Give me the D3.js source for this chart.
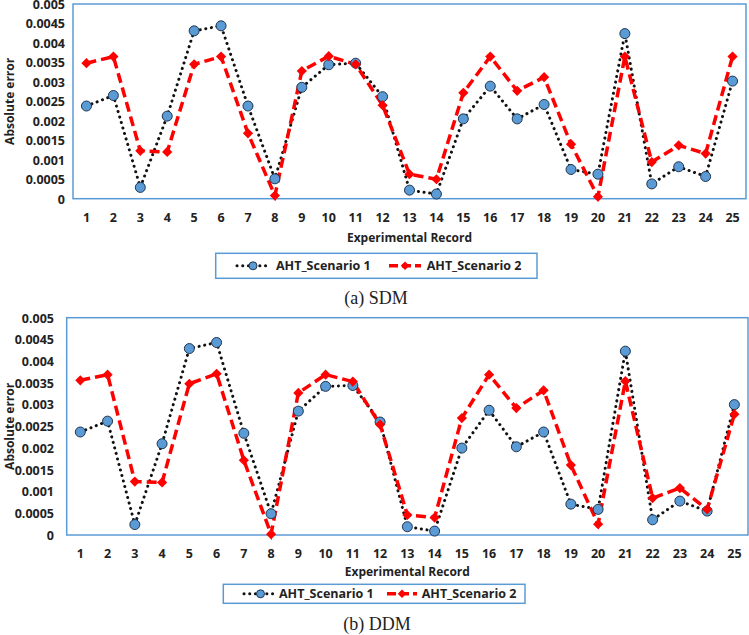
<!DOCTYPE html>
<html><head><meta charset="utf-8">
<script src="https://cdn.jsdelivr.net/npm/d3@7/dist/d3.min.js"></script>
<style>
html,body{margin:0;padding:0;background:#fff;}
svg{display:block;}
</style></head>
<body>
<svg id="chart" width="749" height="635"></svg>
<script>
const records = d3.range(1, 26).map(String);
const yTicks = [0, 0.0005, 0.001, 0.0015, 0.002, 0.0025, 0.003, 0.0035, 0.004, 0.0045, 0.005];
const yTickLabels = ["0","0.0005","0.001","0.0015","0.002","0.0025","0.003","0.0035","0.004","0.0045","0.005"];
const seriesNames = ["AHT_Scenario 1", "AHT_Scenario 2"];

const sdmScenario1 = [0.00238,0.00265,0.00029,0.00212,0.00431,0.00444,0.00238,0.00051,0.00286,0.00344,0.00348,0.00262,0.00022,0.00012,0.00205,0.00289,0.00205,0.00242,0.00075,0.00063,0.00424,0.00038,0.00082,0.00057,0.00302];
const sdmScenario2 = [0.00348,0.00365,0.00123,0.00120,0.00345,0.00365,0.00168,0.00008,0.00328,0.00366,0.00345,0.00240,0.00063,0.00050,0.00272,0.00365,0.00277,0.00312,0.00140,0.00005,0.00365,0.00094,0.00137,0.00116,0.00365];
const ddmScenario1 = [0.00237,0.00262,0.00024,0.00210,0.00429,0.00443,0.00234,0.00049,0.00285,0.00342,0.00344,0.00260,0.00019,0.00009,0.00200,0.00287,0.00203,0.00237,0.00071,0.00059,0.00423,0.00035,0.00078,0.00055,0.00300];
const ddmScenario2 = [0.00356,0.00369,0.00123,0.00121,0.00348,0.00371,0.00172,0.00002,0.00327,0.00369,0.00353,0.00254,0.00046,0.00040,0.00269,0.00369,0.00292,0.00333,0.00161,0.00025,0.00354,0.00085,0.00108,0.00059,0.00278];

const svg = d3.select("#chart");
const BLUE = "#5b9bd5";
const FONT = "'Open Sans', 'Liberation Sans', sans-serif";
const diamond = size => d3.symbol().type(d3.symbolSquare).size(size);

function panel(cfg) {
  const g = svg.append("g");
  const x = d3.scaleBand().domain(records).range([cfg.left, cfg.right]);
  const y = d3.scaleLinear().domain([0, 0.005]).range([cfg.bottom, cfg.top]);
  const cx = d => x(d) + x.bandwidth() / 2;

  g.append("rect").attr("x", cfg.left).attr("y", cfg.top)
    .attr("width", cfg.right - cfg.left).attr("height", cfg.bottom - cfg.top)
    .attr("fill", "none").attr("stroke", BLUE).attr("stroke-width", 1.5);

  const yAxis = d3.axisLeft(y).tickValues(yTicks).tickSize(0).tickPadding(0)
    .tickFormat((d, i) => yTickLabels[i]);
  const ya = g.append("g").attr("transform", `translate(${cfg.yLabelRight},0)`).call(yAxis);
  ya.select(".domain").remove();
  ya.selectAll("text").attr("font-family", FONT).attr("font-weight", 700)
    .attr("font-size", 12.5).attr("fill", "#222").attr("dy", "0.35em");

  const xAxis = d3.axisBottom(x).tickSize(0).tickPadding(0);
  const xa = g.append("g").attr("transform", `translate(0,${cfg.xLabelBase})`).call(xAxis);
  xa.select(".domain").remove();
  xa.selectAll("text").attr("font-family", FONT).attr("font-weight", 700)
    .attr("font-size", 12.5).attr("fill", "#222").attr("dy", 0);

  g.append("text").attr("x", (cfg.left + cfg.right) / 2).attr("y", cfg.xTitleBase)
    .attr("text-anchor", "middle").attr("font-family", FONT).attr("font-weight", 700)
    .attr("font-size", 12).attr("fill", "#222").text("Experimental Record");
  g.append("text").attr("transform", `translate(${cfg.yTitleX},${(cfg.top + cfg.bottom) / 2}) rotate(-90)`)
    .attr("text-anchor", "middle").attr("font-family", FONT).attr("font-weight", 700)
    .attr("font-size", 12).attr("fill", "#222").attr("dy", "0.35em").text("Absolute error");

  const line = d3.line().x((d, i) => cx(records[i])).y(d => y(d));

  g.append("path").datum(cfg.s1).attr("d", line).attr("fill", "none")
    .attr("stroke", "#111").attr("stroke-width", 3).attr("stroke-linecap", "round")
    .attr("stroke-dasharray", "0.1 5.6");
  g.append("path").datum(cfg.s2).attr("d", line).attr("fill", "none")
    .attr("stroke", "#ff0000").attr("stroke-width", 3.5)
    .attr("stroke-dasharray", "10 5");

  g.selectAll(".c1").data(cfg.s1).join("circle")
    .attr("cx", (d, i) => cx(records[i])).attr("cy", d => y(d)).attr("r", 5)
    .attr("fill", BLUE).attr("stroke", "#1f3550").attr("stroke-width", 1);
  g.selectAll(".d2").data(cfg.s2).join("path")
    .attr("transform", (d, i) => `translate(${cx(records[i])},${y(d)}) rotate(45)`)
    .attr("d", diamond(52)).attr("fill", "#ff0000");

  const L = cfg.legend;
  g.append("rect").attr("x", L.x0).attr("y", L.y0).attr("width", L.x1 - L.x0).attr("height", L.y1 - L.y0)
    .attr("fill", "#fff").attr("stroke", BLUE).attr("stroke-width", 1.5);
  const ly = (L.y0 + L.y1) / 2;
  g.append("line").attr("x1", L.s1[0]).attr("x2", L.s1[1]).attr("y1", ly).attr("y2", ly)
    .attr("stroke", "#111").attr("stroke-width", 3).attr("stroke-linecap", "round").attr("stroke-dasharray", "0.1 5.6");
  g.append("circle").attr("cx", (L.s1[0] + L.s1[1]) / 2).attr("cy", ly).attr("r", 4)
    .attr("fill", BLUE).attr("stroke", "#1f3550").attr("stroke-width", 1);
  g.append("text").attr("x", L.t1).attr("y", ly).attr("dy", "0.35em").attr("font-family", FONT)
    .attr("font-weight", 700).attr("font-size", 12.5).attr("fill", "#222").text(seriesNames[0]);
  g.append("line").attr("x1", L.s2[0]).attr("x2", L.s2[1]).attr("y1", ly).attr("y2", ly)
    .attr("stroke", "#ff0000").attr("stroke-width", 3.5).attr("stroke-dasharray", "9 4");
  g.append("path").attr("transform", `translate(${(L.s2[0] + L.s2[1]) / 2},${ly}) rotate(45)`)
    .attr("d", diamond(36)).attr("fill", "#ff0000");
  g.append("text").attr("x", L.t2).attr("y", ly).attr("dy", "0.35em").attr("font-family", FONT)
    .attr("font-weight", 700).attr("font-size", 12.5).attr("fill", "#222").text(seriesNames[1]);

  g.append("text").attr("x", cfg.capX).attr("y", cfg.capBase).attr("text-anchor", "middle")
    .attr("font-family", "'Liberation Serif', 'Times New Roman', serif").attr("font-size", 18)
    .attr("fill", "#222").text(cfg.caption);
}

panel({
  left: 73, right: 746, top: 4, bottom: 198.7,
  yLabelRight: 65, xLabelBase: 222, xTitleBase: 242, yTitleX: 10,
  s1: sdmScenario1, s2: sdmScenario2,
  legend: {x0: 215.7, x1: 537, y0: 253.3, y1: 278.3, s1: [237, 269], t1: 276, s2: [389, 421], t2: 426.7},
  caption: "(a) SDM", capX: 376, capBase: 304
});
panel({
  left: 66.7, right: 748, top: 317.7, bottom: 535,
  yLabelRight: 54, xLabelBase: 557.5, xTitleBase: 576, yTitleX: 9.5,
  s1: ddmScenario1, s2: ddmScenario2,
  legend: {x0: 223.3, x1: 525, y0: 584.3, y1: 603.3, s1: [244, 277], t1: 279, s2: [387, 417], t2: 421.7},
  caption: "(b) DDM", capX: 377, capBase: 630
});
</script>
</body></html>
